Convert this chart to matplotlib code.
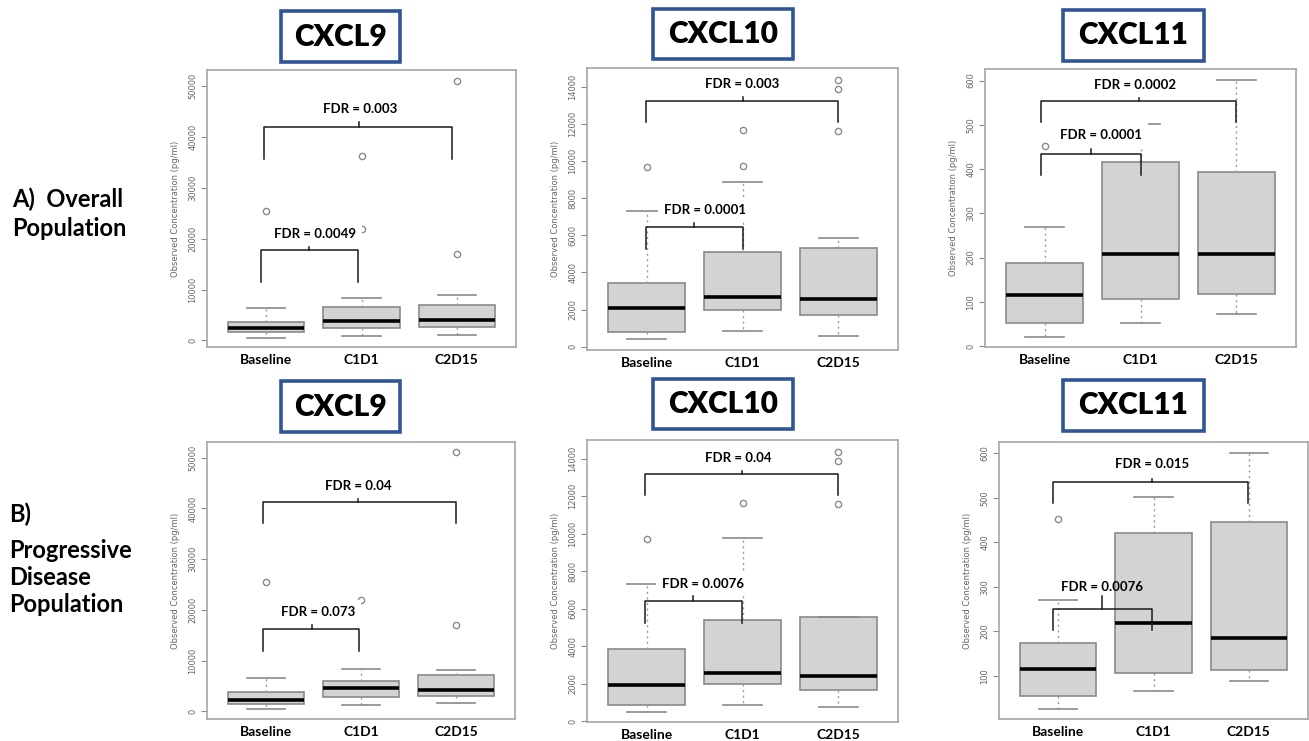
import matplotlib
matplotlib.use("Agg")
import matplotlib.pyplot as plt
from matplotlib.patches import Rectangle

plt.rcParams['font.family'] = ['Lato', 'DejaVu Sans']

groups = ["Baseline", "C1D1", "C2D15"]
cytokines = ["CXCL9", "CXCL10", "CXCL11"]

# five-number summaries per group: [whisker low, Q1, median, Q3, whisker high]
a_cxcl9 = [[400, 1570, 2350, 3700, 6400], [850, 2500, 3900, 6500, 8300], [1000, 2700, 4100, 7000, 8850]]
a_cxcl9_out = [[25500], [36300, 21900], [51100, 17000]]
a_cxcl9_fdr = ["FDR = 0.0049", "FDR = 0.003"]

a_cxcl10 = [[400, 810, 2080, 3410, 7310], [860, 1960, 2660, 5070, 8870], [590, 1720, 2570, 5300, 5840]]
a_cxcl10_out = [[9690], [9730, 11650], [11600, 13870, 14380]]
a_cxcl10_fdr = ["FDR = 0.0001", "FDR = 0.003"]

a_cxcl11 = [[21, 52, 115, 188, 270], [53, 107, 209, 415, 502], [72, 118, 209, 394, 601]]
a_cxcl11_out = [[453], [], []]
a_cxcl11_fdr = ["FDR = 0.0001", "FDR = 0.0002"]

b_cxcl9 = [[470, 1450, 2300, 3730, 6500], [1250, 2750, 4580, 6030, 8350], [1650, 2950, 4300, 7150, 8200]]
b_cxcl9_out = [[25600], [22000], [51100, 17000]]
b_cxcl9_fdr = ["FDR = 0.073", "FDR = 0.04"]

b_cxcl10 = [[460, 840, 1900, 3870, 7290], [870, 1970, 2590, 5420, 9770], [760, 1650, 2420, 5530, 5530]]
b_cxcl10_out = [[9700], [11640], [11570, 13860, 14360]]
b_cxcl10_fdr = ["FDR = 0.0076", "FDR = 0.04"]

b_cxcl11 = [[25, 54, 116, 173, 270], [65, 106, 218, 420, 502], [88, 113, 184, 446, 601]]
b_cxcl11_out = [[452], [], []]
b_cxcl11_fdr = ["FDR = 0.0076", "FDR = 0.015"]

# ---- layout (pixels) ----
W, H = 1309, 741
# axes box: left, top, right, bottom
panels = [
    (a_cxcl9, a_cxcl9_out, a_cxcl9_fdr, (207, 70, 516, 347), (-1300, 53200), range(0, 50001, 10000)),
    (a_cxcl10, a_cxcl10_out, a_cxcl10_fdr, (587, 68, 898, 350), (-180, 15000), range(0, 14001, 2000)),
    (a_cxcl11, a_cxcl11_out, a_cxcl11_fdr, (985, 69, 1296, 347), (-2, 626), range(0, 601, 100)),
    (b_cxcl9, b_cxcl9_out, b_cxcl9_fdr, (207, 442, 515, 719), (-1500, 53100), range(0, 50001, 10000)),
    (b_cxcl10, b_cxcl10_out, b_cxcl10_fdr, (587, 440, 898, 722), (-50, 15000), range(0, 14001, 2000)),
    (b_cxcl11, b_cxcl11_out, b_cxcl11_fdr, (999, 442, 1308, 719), (3, 625), range(100, 601, 100)),
]
# brackets per panel: (x1, x2, bar, leg, tick_x, tick_top, text_x, text_y)
brackets = [
    [(0.95, 1.96, 17700, 11400, 1.45, 18300, 1.51, 20900), (0.98, 2.95, 41900, 35600, 1.97, 43000, 1.99, 45500)],
    [(0.99, 2.0, 6430, 5260, 1.49, 6660, 1.61, 7360), (0.99, 2.99, 13250, 12120, 2.0, 13430, 2.0, 14140)],
    [(0.96, 2.0, 434, 387, 1.48, 445, 1.59, 477), (0.96, 3.0, 554, 507, 1.98, 560, 1.94, 590)],
    [(0.97, 1.98, 16200, 12000, 1.48, 17000, 1.55, 19600), (0.97, 3.0, 41200, 37100, 1.97, 41800, 1.97, 44400)],
    [(0.98, 1.99, 6410, 5250, 1.48, 6680, 1.59, 7340), (0.98, 2.99, 13200, 12080, 1.99, 13330, 1.96, 14060)],
    [(0.95, 1.98, 250, 203, 1.46, 280, 1.46, 300), (0.95, 2.99, 535, 488, 1.98, 541, 1.99, 576)],
]
title_boxes = [(281, 11, 400, 62), (653, 9, 793, 59), (1063, 10, 1204, 61)]

fig = plt.figure(figsize=(W / 100, H / 100), dpi=100)

for i, (summ, outl, fdr, (l, t, r, b), ylim, yt) in enumerate(panels):
    ax = fig.add_axes([l / W, 1 - b / H, (r - l) / W, (b - t) / H])
    stats = []
    for g, s, o in zip(groups, summ, outl):
        stats.append(dict(label=g, whislo=s[0], q1=s[1], med=s[2], q3=s[3], whishi=s[4], fliers=o))
    ax.bxp(stats, positions=[1, 2, 3], widths=0.8, patch_artist=True,
           boxprops=dict(facecolor='#d3d3d3', edgecolor='#8a8a8a', linewidth=1.2),
           medianprops=dict(color='black', linewidth=2.6),
           whiskerprops=dict(color='#9a9a9a', linewidth=1.0, linestyle=(0, (1.5, 2.5))),
           capprops=dict(color='#8a8a8a', linewidth=1.2),
           flierprops=dict(marker='o', markerfacecolor='none', markeredgecolor='#8a8a8a',
                           markersize=4.5, markeredgewidth=1.0))
    ax.set_xlim(0.38, 3.62)
    ax.set_ylim(*ylim)
    ax.set_yticks(list(yt))
    ax.set_xticks([1, 2, 3])
    ax.set_xticklabels(groups, fontsize=10, fontweight='bold')
    ax.tick_params(axis='x', length=0, pad=5)
    ax.tick_params(axis='y', length=4, width=0.8, color='#8a8a8a', labelsize=6,
                   labelcolor='#666666', labelrotation=90, pad=3)
    for lab in ax.get_yticklabels():
        lab.set_family('DejaVu Sans')
        lab.set_va('center')
    ax.set_ylabel("Observed Concentration (pg/ml)", fontsize=6, color='#666666',
                  family='DejaVu Sans', labelpad=6)
    for sp in ax.spines.values():
        sp.set_color('#a6a6a6')
        sp.set_linewidth(1.2)

    for k, (x1, x2, bar, leg, tx, ttop, lx, ly) in enumerate(brackets[i]):
        ax.plot([x1, x1, x2, x2], [leg, bar, bar, leg], color='#1a1a1a', lw=1.1, zorder=4)
        ax.plot([tx, tx], [bar, ttop], color='#1a1a1a', lw=1.1, zorder=4)
        bb = None if i == 5 else dict(boxstyle='square,pad=0.45', fc='white', ec='none')
        ax.text(lx, ly, fdr[k], ha='center', va='center', fontsize=9.5,
                fontweight='bold', bbox=bb, zorder=6)

# title boxes above each row
for dy in (0, 370):
    for name, (x0, y0, x1, y1) in zip(cytokines, title_boxes):
        fig.patches.append(Rectangle((x0 / W, 1 - (y1 + dy) / H), (x1 - x0) / W, (y1 - y0) / H,
                                     transform=fig.transFigure, fc='white', ec='#2f5597',
                                     lw=2.6, zorder=5))
        fig.text((x0 + x1) / 2 / W, 1 - ((y0 + y1) / 2 + dy) / H, name, ha='center',
                 va='center', fontsize=21.5, fontweight='heavy', zorder=6)

# row labels
row_lines = [("A)  Overall", 12, 207), ("Population", 12, 236),
             ("B)", 9, 522), ("Progressive", 9, 558), ("Disease", 9, 585), ("Population", 9, 612)]
for txt, x, y in row_lines:
    fig.text(x / W, 1 - y / H, txt, ha='left', va='baseline', fontsize=17, fontweight='bold')

fig.savefig("out.png", dpi=100)
